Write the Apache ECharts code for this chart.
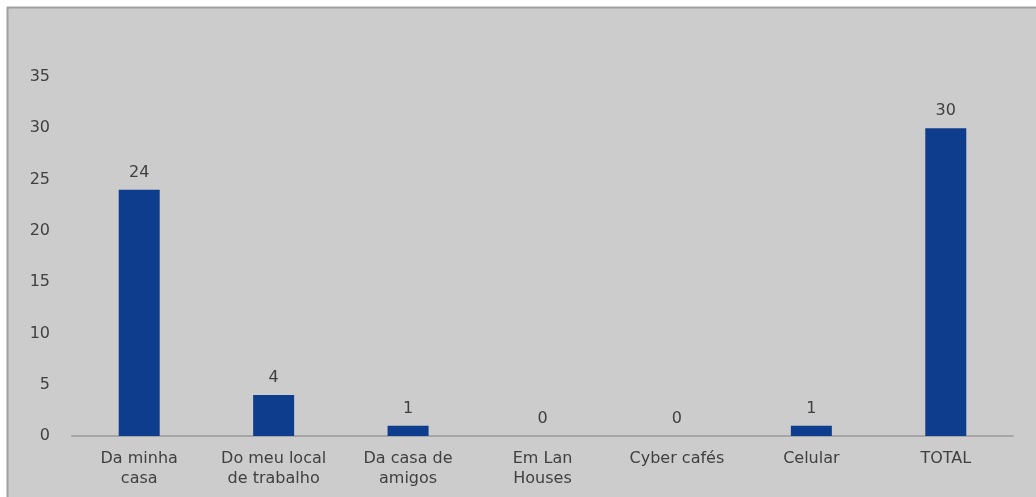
<!DOCTYPE html>
<html>
<head>
<meta charset="utf-8">
<script src="https://cdn.jsdelivr.net/npm/echarts@6/dist/echarts.min.js"></script>
<style>
html,body{margin:0;padding:0;background:#fff;}
#chart{width:1036px;height:497px;}
</style>
</head>
<body>
<div id="chart"></div>
<script>
const categories = ['Da minha\ncasa', 'Do meu local\nde trabalho', 'Da casa de\namigos', 'Em Lan\nHouses', 'Cyber cafés', 'Celular', 'TOTAL'];
const values = [24, 4, 1, 0, 0, 1, 30];
const yTicks = {min: 0, max: 35, interval: 5};

const chart = echarts.init(document.getElementById('chart'));
const font = 'DejaVu Sans';
chart.setOption({
  backgroundColor: '#ffffff',
  animation: false,
  graphic: [
    {type: 'rect', shape: {x: 7, y: 7, width: 1029, height: 490}, style: {fill: '#cccccc'}, z: -10},
    {type: 'line', shape: {x1: 7, y1: 7.5, x2: 1036, y2: 7.5}, style: {stroke: '#a0a0a0', lineWidth: 2}, z: -9},
    {type: 'line', shape: {x1: 7.5, y1: 7, x2: 7.5, y2: 497}, style: {stroke: '#a0a0a0', lineWidth: 2}, z: -9}
  ],
  grid: {left: 72, right: 23, top: 77, bottom: 61, containLabel: false},
  xAxis: {
    type: 'category',
    data: categories,
    axisLine: {lineStyle: {color: '#a6a6a6', width: 2}},
    axisTick: {show: false},
    axisLabel: {color: '#404040', fontFamily: font, fontSize: 16, lineHeight: 20, margin: 13, interval: 0}
  },
  yAxis: {
    type: 'value',
    min: yTicks.min, max: yTicks.max, interval: yTicks.interval,
    splitLine: {show: false},
    axisLine: {show: false},
    axisTick: {show: false},
    axisLabel: {color: '#404040', fontFamily: font, fontSize: 16, margin: 22}
  },
  series: [{
    type: 'bar',
    data: values,
    barWidth: '30.5%',
    itemStyle: {color: '#0f3d8e'},
    label: {show: true, position: 'top', distance: 9, color: '#404040', fontFamily: font, fontSize: 16}
  }]
});
</script>
</body>
</html>
